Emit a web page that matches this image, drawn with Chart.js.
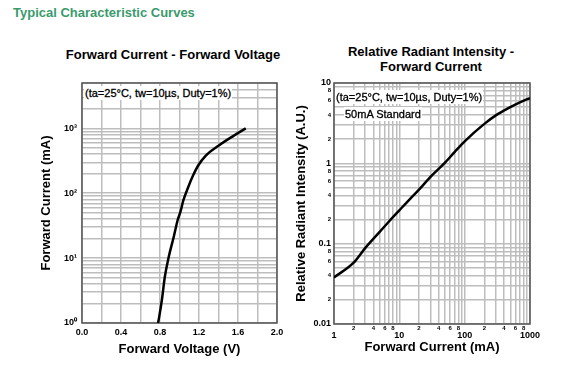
<!DOCTYPE html>
<html lang="en">
<head>
<meta charset="UTF-8">
<title>Typical Characteristic Curves</title>
<style>
  body { margin: 0; background: #fff; font-family: "Liberation Sans", Arial, sans-serif; }
  #page { position: relative; width: 582px; height: 376px; overflow: hidden; }
  .heading { position: absolute; left: 13px; top: 5px; font-size: 13px; font-weight: bold; color: #3b9a6d; line-height: 16px; white-space: nowrap; }
  .ctitle { position: absolute; font-size: 13px; font-weight: bold; color: #000; line-height: 15px; text-align: center; white-space: nowrap; }
  .note { position: absolute; font-size: 11px; line-height: 14px; background: #fff; color: #000; white-space: nowrap; padding: 0 1px; -webkit-text-stroke: 0.3px #000; }
  canvas { position: absolute; top: 0; }
</style>
</head>
<body>
<div id="page">
  <div class="heading">Typical Characteristic Curves</div>
  <div class="ctitle" style="left:23px; width:300px; top:47px;">Forward Current - Forward Voltage</div>
  <div class="ctitle" style="left:281px; width:300px; top:44px;">Relative Radiant Intensity -<br>Forward Current</div>

  <canvas id="fvChart" width="290" height="376" style="left:0"></canvas>
  <canvas id="riChart" width="260" height="376" style="left:290px"></canvas>

  <div class="note" style="left:84px; top:86px;">(ta=25°C, tw=10µs, Duty=1%)</div>
  <div class="note" style="left:335px; top:90px;">(ta=25°C, tw=10µs, Duty=1%)</div>
  <div class="note" style="left:344px; top:107px;">50mA Standard</div>
</div>

<script src="https://cdn.jsdelivr.net/npm/chart.js@4.4.0/dist/chart.umd.min.js"></script>
<script>
// Forward current vs forward voltage
const fvVoltage = [0.78, 0.79, 0.82, 0.85, 0.89, 0.94, 0.98, 1.01, 1.04, 1.09, 1.14, 1.19, 1.27, 1.4, 1.55, 1.68];
const fvCurrent = [1, 1.2, 2.3, 5.2, 10.5, 21, 38, 52, 78, 125, 189, 265, 380, 540, 760, 1000];

// Relative radiant intensity vs forward current
const riCurrent   = [1, 2, 3, 5, 7, 10, 15, 20, 30, 50, 70, 100, 200, 300, 500, 700, 1000];
const riIntensity = [0.038, 0.058, 0.088, 0.14, 0.19, 0.26, 0.37, 0.47, 0.68, 1.02, 1.38, 1.88, 3.1, 3.95, 5.0, 5.75, 6.5];

// axis ticks / labels
const decadeSteps = [1, 2, 3, 4, 5, 6, 7, 8, 9];
const minorLabelSteps = [2, 4, 6, 8];
const fvYLabels = { 1: '10⁰', 10: '10¹', 100: '10²', 1000: '10³' };
const riXMajor = [1, 10, 100, 1000];
const riYMajor = { 10: '10', 1: '1', 0.1: '0.1', 0.01: '0.01' };

const FONT = '"Liberation Sans", Arial, sans-serif';
const GRID = '#bdbdbd';

function logTicks(min, max) {
  const out = [];
  for (let e = Math.floor(Math.log10(min)); e <= Math.ceil(Math.log10(max)); e++) {
    decadeSteps.forEach(m => {
      const v = +(m * Math.pow(10, e)).toPrecision(6);
      if (v >= min && v <= max) out.push(v);
    });
  }
  return out;
}

function significand(v) {
  return Math.round(v / Math.pow(10, Math.floor(Math.log10(v) + 1e-9)));
}

function minorLabel(v) {
  const s = significand(v);
  return minorLabelSteps.includes(s) ? String(s) : '';
}

// box around the plot area
const frame = {
  id: 'frame',
  beforeDatasetsDraw(chart) {
    const a = chart.chartArea, ctx = chart.ctx;
    ctx.save();
    ctx.strokeStyle = '#555';
    ctx.lineWidth = 1.5;
    ctx.strokeRect(a.left, a.top, a.right - a.left, a.bottom - a.top);
    ctx.restore();
  }
};

function axisTitle(text) {
  return { display: true, text: text, color: '#000', padding: 0,
           font: { family: FONT, size: 13, weight: 'bold' } };
}

// Left chart
new Chart(document.getElementById('fvChart'), {
  type: 'line',
  data: {
    datasets: [{
      data: fvVoltage.map((v, i) => ({ x: v, y: fvCurrent[i] })),
      borderColor: '#000',
      borderWidth: 2.5,
      pointRadius: 0,
      cubicInterpolationMode: 'monotone'
    }]
  },
  options: {
    responsive: false,
    animation: false,
    layout: { padding: { top: 83, left: 39, right: 13, bottom: 19 } },
    plugins: { legend: { display: false }, tooltip: { enabled: false } },
    scales: {
      x: {
        type: 'linear', min: 0, max: 2,
        afterFit: s => { s.height = 34; },
        grid: { color: GRID, lineWidth: 1.5, drawTicks: false },
        border: { display: false },
        ticks: {
          stepSize: 0.2, padding: 4, maxRotation: 0, autoSkip: false, color: '#000',
          font: { family: FONT, size: 9, weight: 'bold' },
          callback: v => (Math.round(v * 10) % 4 === 0 ? v.toFixed(1) : '')
        },
        title: axisTitle('Forward Voltage (V)')
      },
      y: {
        type: 'logarithmic', min: 1, max: 5000,
        afterFit: s => { s.width = 43; },
        afterBuildTicks: s => { s.ticks = logTicks(1, 5000).map(v => ({ value: v })); },
        grid: { color: GRID, lineWidth: 1.5, drawTicks: false },
        border: { display: false },
        ticks: {
          padding: 5, autoSkip: false, color: '#000',
          font: { family: FONT, size: 9, weight: 'bold' },
          callback: v => fvYLabels[v] || ''
        },
        title: axisTitle('Forward Current (mA)')
      }
    }
  },
  plugins: [frame]
});

// Right chart
new Chart(document.getElementById('riChart'), {
  type: 'line',
  data: {
    datasets: [{
      data: riCurrent.map((v, i) => ({ x: v, y: riIntensity[i] })),
      borderColor: '#000',
      borderWidth: 2.5,
      pointRadius: 0,
      cubicInterpolationMode: 'monotone'
    }]
  },
  options: {
    responsive: false,
    animation: false,
    layout: { padding: { top: 83, left: 4, right: 20, bottom: 21 } },
    plugins: { legend: { display: false }, tooltip: { enabled: false } },
    scales: {
      x: {
        type: 'logarithmic', min: 1, max: 1000,
        afterFit: s => { s.height = 31; },
        afterBuildTicks: s => { s.ticks = logTicks(1, 1000).map(v => ({ value: v })); },
        grid: { color: GRID, lineWidth: 1.5, drawTicks: false },
        border: { display: false },
        ticks: {
          padding: 1, maxRotation: 0, autoSkip: false, color: '#000',
          font: ctx => (riXMajor.includes(ctx.tick && ctx.tick.value)
            ? { family: FONT, weight: 'bold', size: 9, lineHeight: 0.8 }
            : { family: FONT, weight: 'bold', size: 6 }),
          // major labels sit one short line lower than the minor digits
          callback: v => (riXMajor.includes(v) ? ['', String(v)] : minorLabel(v))
        },
        title: axisTitle('Forward Current (mA)')
      },
      y: {
        type: 'logarithmic', min: 0.01, max: 10,
        afterFit: s => { s.width = 40; },
        afterBuildTicks: s => { s.ticks = logTicks(0.01, 10).map(v => ({ value: v })); },
        grid: { color: GRID, lineWidth: 1.5, drawTicks: false },
        border: { display: false },
        ticks: {
          padding: 3, autoSkip: false, color: '#000',
          font: ctx => ({ family: FONT, weight: 'bold',
                          size: (ctx.tick && riYMajor[ctx.tick.value]) ? 9 : 6 }),
          callback: v => riYMajor[v] || minorLabel(v)
        },
        title: axisTitle('Relative Radiant Intensity (A.U.)')
      }
    }
  },
  plugins: [frame]
});
</script>
</body>
</html>
